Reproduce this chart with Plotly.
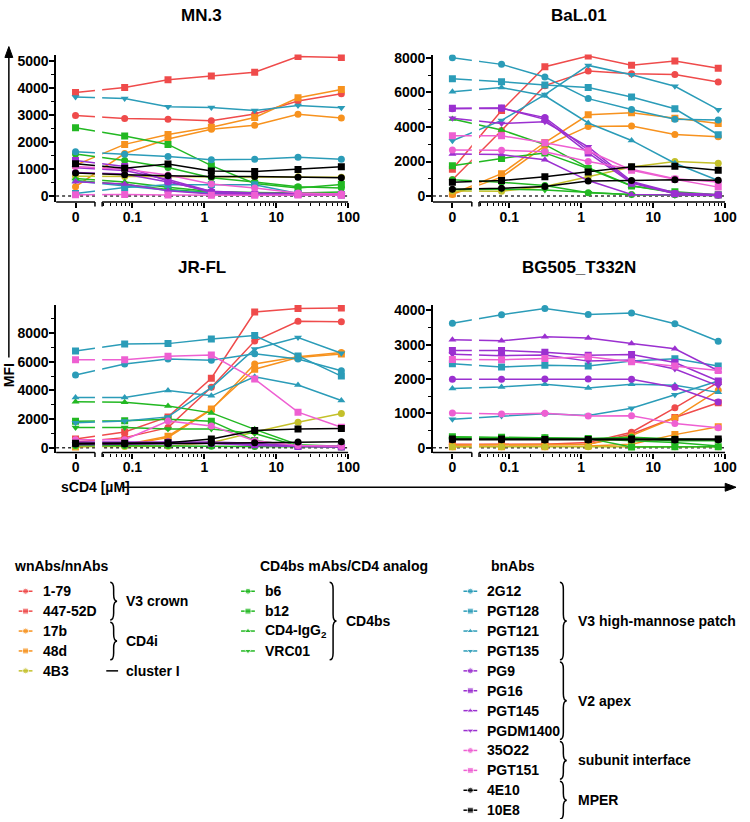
import math
import plotly.graph_objects as go

W, H = 750, 822

# ---------------- data ----------------
conc = [0, 0.078125, 0.3125, 1.25, 5, 20, 80]
x_tick_vals_label = ["0", "0.1", "1", "10", "100"]

antibodies = ["1-79", "447-52D", "17b", "48d", "4B3", "b6", "b12", "CD4-IgG2", "VRC01",
              "2G12", "PGT128", "PGT121", "PGT135", "PG9", "PG16", "PGT145", "PGDM1400",
              "35O22", "PGT151", "4E10", "10E8"]

mn3 = {
    "1-79": [2990, 2880, 2850, 2800, 3050, 3530, 3800],
    "447-52D": [3850, 4030, 4320, 4460, 4600, 5180, 5150],
    "17b": [350, 1580, 2120, 2480, 2630, 3040, 2900],
    "48d": [1150, 1920, 2290, 2560, 2920, 3650, 3960],
    "4B3": [740, 730, 720, 710, 710, 720, 700],
    "b6": [1560, 1320, 1060, 680, 520, 350, 300],
    "b12": [2540, 2230, 1920, 1130, 470, 300, 430],
    "CD4-IgG2": [650, 520, 330, 170, 130, 120, 150],
    "VRC01": [580, 430, 250, 130, 80, 60, 60],
    "2G12": [1650, 1550, 1470, 1350, 1370, 1440, 1370],
    "PGT128": [100, 320, 420, 430, 420, 100, 40],
    "PGT121": [560, 380, 220, 110, 70, 50, 40],
    "PGT135": [3680, 3620, 3320, 3290, 3180, 3360, 3280],
    "PG9": [880, 820, 520, 180, 120, 100, 80],
    "PG16": [1320, 1100, 560, 130, 70, 60, 50],
    "PGT145": [530, 450, 200, 80, 50, 40, 30],
    "PGDM1400": [1050, 950, 620, 170, 100, 60, 40],
    "35O22": [1100, 1000, 780, 450, 300, 120, 80],
    "PGT151": [50, 60, 40, 30, 30, 40, 30],
    "4E10": [860, 790, 760, 730, 730, 700, 680],
    "10E8": [1200, 1030, 1190, 930, 910, 990, 1090],
}

bal01 = {
    "1-79": [950, 3800, 6390, 7240, 7080, 7030, 6600],
    "447-52D": [1550, 4950, 7480, 8100, 7570, 7820, 7400],
    "17b": [100, 1100, 2900, 4030, 4050, 3560, 3440],
    "48d": [130, 1300, 3100, 4700, 4820, 4500, 4200],
    "4B3": [300, 280, 560, 1120, 1680, 2000, 1900],
    "b6": [950, 800, 620, 200, 100, 80, 50],
    "b12": [1750, 2180, 2500, 1600, 580, 250, 80],
    "CD4-IgG2": [4460, 3830, 2980, 1650, 600, 200, 50],
    "VRC01": [380, 400, 350, 200, 80, 50, 30],
    "2G12": [8000, 7620, 6890, 5640, 5010, 4450, 4400],
    "PGT128": [6790, 6620, 6420, 6280, 5730, 5050, 3550],
    "PGT121": [6030, 6280, 5800, 4230, 3220, 1900, 900],
    "PGT135": [3200, 4380, 5870, 7560, 7020, 6350, 5000],
    "PG9": [5060, 5080, 4540, 2650, 800, 150, 80],
    "PG16": [5080, 5100, 4440, 2500, 750, 130, 60],
    "PGT145": [2430, 2400, 2100, 900, 100, 50, 30],
    "PGDM1400": [4500, 4200, 4300, 2850, 850, 200, 80],
    "35O22": [2660, 2650, 2560, 2000, 1550, 1000, 820],
    "PGT151": [3490, 3490, 3080, 2620, 1500, 980, 520],
    "4E10": [400, 450, 560, 870, 900, 950, 920],
    "10E8": [800, 900, 1120, 1400, 1700, 1720, 1500],
}

jrfl = {
    "1-79": [400, 700, 1400, 4220, 7450, 8830, 8800],
    "447-52D": [600, 1100, 2150, 4850, 9480, 9720, 9760],
    "17b": [100, 180, 700, 2650, 5850, 6350, 6650],
    "48d": [50, 200, 800, 2700, 5480, 6300, 6550],
    "4B3": [80, 80, 100, 350, 1100, 1780, 2380],
    "b6": [150, 150, 150, 100, 80, 80, 50],
    "b12": [1850, 1880, 1980, 1850, 500, 120, 60],
    "CD4-IgG2": [3210, 3180, 2910, 2430, 1280, 200, 100],
    "VRC01": [1400, 1400, 1300, 1300, 990, 120, 60],
    "2G12": [5080, 5850, 6200, 6100, 6560, 6200, 5370],
    "PGT128": [6750, 7240, 7270, 7590, 7840, 6400, 5000],
    "PGT121": [3510, 3510, 3990, 3620, 4950, 4380, 3300],
    "PGT135": [1740, 1860, 2150, 4200, 6900, 7700, 6600],
    "PG9": [400, 400, 420, 400, 300, 100, 80],
    "PG16": [300, 350, 350, 300, 200, 80, 50],
    "PGT145": [200, 220, 250, 300, 150, 80, 60],
    "PGDM1400": [250, 300, 300, 350, 250, 120, 80],
    "35O22": [550, 550, 1860, 1520, 480, 150, 100],
    "PGT151": [6150, 6150, 6380, 6470, 4790, 2480, 1420],
    "4E10": [250, 250, 280, 300, 350, 400, 420],
    "10E8": [300, 300, 350, 600, 1200, 1310, 1330],
}

bg505 = {
    "1-79": [100, 100, 100, 150, 450, 1160, 1900],
    "447-52D": [80, 80, 80, 100, 400, 880, 1310],
    "17b": [80, 80, 80, 100, 350, 870, 1670],
    "48d": [30, 30, 30, 50, 100, 380, 610],
    "4B3": [30, 30, 30, 30, 30, 30, 30],
    "b6": [280, 280, 280, 270, 300, 250, 230],
    "b12": [320, 300, 290, 270, 20, 30, 30],
    "CD4-IgG2": [300, 280, 280, 260, 200, 150, 50],
    "VRC01": [250, 250, 250, 250, 250, 200, 200],
    "2G12": [3620, 3870, 4050, 3880, 3920, 3610, 3100],
    "PGT128": [2440, 2350, 2400, 2380, 2520, 2590, 2380],
    "PGT121": [1720, 1770, 1850, 1740, 1850, 1820, 1610],
    "PGT135": [830, 920, 990, 940, 1150, 1540, 1940],
    "PG9": [1990, 1990, 2000, 2000, 1990, 1760, 1330],
    "PG16": [2830, 2830, 2780, 2690, 2710, 2480, 1940],
    "PGT145": [3140, 3110, 3230, 3190, 3030, 2880, 2240],
    "PGDM1400": [2720, 2680, 2700, 2520, 2550, 2290, 1800],
    "35O22": [1010, 980, 1000, 920, 930, 700, 580],
    "PGT151": [2570, 2560, 2600, 2650, 2500, 2380, 2250],
    "4E10": [230, 230, 220, 220, 230, 220, 230],
    "10E8": [250, 250, 240, 240, 250, 240, 250],
}

# ---------------- styles ----------------
RED, ORANGE, OLIVE, GREEN = "#EF4B4B", "#F7921E", "#C4C02A", "#22B822"
TEAL, PURPLE, PINK, BLACK = "#2B9CB8", "#9B30D0", "#EE5FD2", "#000000"
colors = {"1-79": RED, "447-52D": RED, "17b": ORANGE, "48d": ORANGE, "4B3": OLIVE,
          "b6": GREEN, "b12": GREEN, "CD4-IgG2": GREEN, "VRC01": GREEN,
          "2G12": TEAL, "PGT128": TEAL, "PGT121": TEAL, "PGT135": TEAL,
          "PG9": PURPLE, "PG16": PURPLE, "PGT145": PURPLE, "PGDM1400": PURPLE,
          "35O22": PINK, "PGT151": PINK, "4E10": BLACK, "10E8": BLACK}
symbols = {"1-79": "circle", "447-52D": "square", "17b": "circle", "48d": "square", "4B3": "circle",
           "b6": "circle", "b12": "square", "CD4-IgG2": "triangle-up", "VRC01": "triangle-down",
           "2G12": "circle", "PGT128": "square", "PGT121": "triangle-up", "PGT135": "triangle-down",
           "PG9": "circle", "PG16": "square", "PGT145": "triangle-up", "PGDM1400": "triangle-down",
           "35O22": "circle", "PGT151": "square", "4E10": "circle", "10E8": "square"}
labels = {a: a for a in antibodies}
labels["CD4-IgG2"] = "CD4-IgG<sub>2</sub>"

FONT = "Liberation Sans, Arial, sans-serif"
X0 = -1.79          # position of the "0" concentration on the log10 axis
XR = [-2.06, 2.0]
BRK = (-1.52, -1.42)


def xpos(c):
    return X0 if c == 0 else math.log10(c)


xv = [xpos(c) for c in conc]

# panels: name, data, px x0, x1, y_top, y_bot(axis line), y range, dtick, title pos
panels = [
    ("MN.3", mn3, 57, 354, 50, 199, (-221, 5257), 1000, (205, 11)),
    ("BaL.01", bal01, 440, 737, 50, 199, (-344, 8190), 2000, (588, 11)),
    ("JR-FL", jrfl, 57, 354, 303, 452, (-346, 9965), 2000, (205, 265)),
    ("BG505_T332N", bg505, 440, 737, 303, 452, (-144, 4153), 1000, (588, 265)),
]

fig = go.Figure()
shapes = []
annotations = []

minor_x = []
for n in (-2, -1, 0, 1):
    for k in range(2, 10):
        v = math.log10(k * 10 ** n)
        if BRK[1] < v < XR[1]:
            minor_x.append(v)

for i, (name, data, px0, px1, pyt, pyb, yr, dt, tpos) in enumerate(panels):
    n = i + 1
    xa = "x" if n == 1 else f"x{n}"
    ya = "y" if n == 1 else f"y{n}"
    for ab in antibodies:
        fig.add_trace(go.Scatter(
            x=xv, y=data[ab], mode="lines+markers", name=ab, showlegend=False,
            line=dict(color=colors[ab], width=1.5),
            marker=dict(symbol=symbols[ab], size=7, color=colors[ab]),
            xaxis=xa, yaxis=ya))
    dom_x = [px0 / W, px1 / W]
    dom_y = [1 - pyb / H, 1 - pyt / H]
    fig.update_layout(**{
        ("xaxis" if n == 1 else f"xaxis{n}"): dict(
            domain=dom_x, range=XR, showgrid=False, zeroline=False, showline=False,
            tickmode="array", tickvals=[X0, -1, 0, 1, 2], ticktext=x_tick_vals_label,
            ticks="outside", ticklen=5, tickwidth=1.5, tickcolor="black", ticklabelstandoff=-3,
            tickfont=dict(family=FONT, size=14, color="black", weight="bold"),
            minor=dict(tickmode="array", tickvals=minor_x, ticks="outside", ticklen=3,
                       tickwidth=1.2, tickcolor="black"),
            anchor=ya, fixedrange=True),
        ("yaxis" if n == 1 else f"yaxis{n}"): dict(
            domain=dom_y, range=list(yr), showgrid=False, zeroline=False, showline=True,
            linecolor="black", linewidth=1.5, dtick=dt, tick0=0, tickformat="d",
            ticks="outside", ticklen=5, tickwidth=1.5, tickcolor="black", ticklabelstandoff=-2,
            tickfont=dict(family=FONT, size=14, color="black", weight="bold"),
            minor=dict(dtick=dt / 2, ticks="outside", ticklen=3, tickwidth=1.2, tickcolor="black"),
            anchor=xa, fixedrange=True),
    })
    # dotted zero line
    shapes.append(dict(type="line", xref=xa, yref=ya, x0=XR[0], x1=XR[1], y0=0, y1=0,
                       line=dict(color="#333", width=1.5, dash="dot"), layer="below"))
    # axis break gap
    shapes.append(dict(type="rect", xref=xa, yref=f"{ya} domain", x0=BRK[0], x1=BRK[1], y0=0.0, y1=1,
                       fillcolor="white", line=dict(width=0), layer="above"))
    # broken x axis line
    shapes.append(dict(type="line", xref=xa, yref=f"{ya} domain", x0=XR[0], x1=BRK[0], y0=0, y1=0,
                       line=dict(color="black", width=1.5), layer="above"))
    shapes.append(dict(type="line", xref=xa, yref=f"{ya} domain", x0=BRK[1], x1=XR[1], y0=0, y1=0,
                       line=dict(color="black", width=1.5), layer="above"))
    shapes.append(dict(type="line", xref=xa, yref=f"{ya} domain", x0=BRK[0], x1=BRK[0], y0=0, y1=-0.03,
                       line=dict(color="black", width=1.5), layer="above"))
    shapes.append(dict(type="line", xref=xa, yref=f"{ya} domain", x0=BRK[1], x1=BRK[1], y0=0, y1=-0.03,
                       line=dict(color="black", width=1.5), layer="above"))
    annotations.append(dict(text=f"<b>{name}</b>", x=tpos[0] / W, y=1 - tpos[1] / H, xref="paper",
                            yref="paper", showarrow=False, xanchor="center", yanchor="middle",
                            font=dict(family=FONT, size=17, color="black")))

# ---------------- overlay axis for legend / decorations (pixel coords) ----------------
fig.update_layout(
    xaxis5=dict(domain=[0, 1], range=[0, W], visible=False, fixedrange=True, anchor="y5"),
    yaxis5=dict(domain=[0, 1], range=[H, 0], visible=False, fixedrange=True, anchor="x5"),
)

col_defs = [
    (["1-79", "447-52D", "17b", "48d", "4B3"], 26, 42),
    (["b6", "b12", "CD4-IgG2", "VRC01"], 252, 267),
    (["2G12", "PGT128", "PGT121", "PGT135", "PG9", "PG16", "PGT145", "PGDM1400",
      "35O22", "PGT151", "4E10", "10E8"], 478, 493),
]
ROW0, DR = 592, 20.1
for names, mx, tx in col_defs:
    for r, ab in enumerate(names):
        cy = ROW0 + r * DR
        fig.add_trace(go.Scatter(
            x=[mx - 7, mx, mx + 7], y=[cy, cy, cy], mode="lines+markers", showlegend=False,
            line=dict(color=colors[ab], width=1.5),
            marker=dict(symbol=symbols[ab], size=[0, 6, 0], color=colors[ab]),
            xaxis="x5", yaxis="y5", hoverinfo="skip"))
        annotations.append(dict(text=f"<b>{labels[ab]}</b>", x=tx, y=cy, xref="x5", yref="y5",
                                showarrow=False, xanchor="left", yanchor="middle",
                                font=dict(family=FONT, size=14, color="black")))

headers = [("wnAbs/nnAbs", 12), ("CD4bs mAbs/CD4 analog", 262), ("bnAbs", 497)]
for txt, hx in headers:
    annotations.append(dict(text=f"<b>{txt}</b>", x=hx, y=567, xref="x5", yref="y5", showarrow=False,
                            xanchor="left", yanchor="middle", font=dict(family=FONT, size=14, color="black")))


def brace(x, y0, y1, w=7):
    ym = (y0 + y1) / 2
    r = min(7, (y1 - y0) / 4)
    xm = x + w / 2
    return (f"M {x},{y0} Q {xm},{y0} {xm},{y0 + r} L {xm},{ym - r} Q {xm},{ym} {x + w},{ym} "
            f"Q {xm},{ym} {xm},{ym + r} L {xm},{y1 - r} Q {xm},{y1} {x},{y1}")


def row_y(r):
    return ROW0 + r * DR


groups = [
    (112, 0, 1, "V3 crown", 126),
    (112, 2, 3, "CD4i", 126),
    (335, 0, 3, "CD4bs", 350),
    (569, 0, 3, "V3 high-mannose patch", 585),
    (569, 4, 7, "V2 apex", 585),
    (569, 8, 9, "subunit interface", 585),
    (569, 10, 11, "MPER", 585),
]
for bx, r0, r1, txt, tx in groups:
    y0, y1 = row_y(r0) - 9, row_y(r1) + 9
    shapes.append(dict(type="path", xref="x5", yref="y5", path=brace(bx, y0, y1),
                       line=dict(color="black", width=1.5)))
    annotations.append(dict(text=f"<b>{txt}</b>", x=tx, y=(y0 + y1) / 2, xref="x5", yref="y5",
                            showarrow=False, xanchor="left", yanchor="middle",
                            font=dict(family=FONT, size=14, color="black")))
# cluster I
shapes.append(dict(type="line", xref="x5", yref="y5", x0=108, x1=120, y0=row_y(4), y1=row_y(4),
                   line=dict(color="black", width=1.5)))
annotations.append(dict(text="<b>cluster I</b>", x=126, y=row_y(4), xref="x5", yref="y5", showarrow=False,
                        xanchor="left", yanchor="middle", font=dict(family=FONT, size=14, color="black")))

# MFI axis label with arrow (line + arrow head)
MX = 9
shapes.append(dict(type="line", xref="x5", yref="y5", x0=MX, x1=MX, y0=50, y1=356,
                   line=dict(color="black", width=1.5)))
shapes.append(dict(type="path", xref="x5", yref="y5",
                   path=f"M {MX - 4},{53} L {MX},{42} L {MX + 4},{53} Z",
                   fillcolor="black", line=dict(color="black", width=1)))
annotations.append(dict(text="<b>MFI</b>", x=MX, y=374, xref="x5", yref="y5", showarrow=False, textangle=-90,
                        xanchor="center", yanchor="middle", font=dict(family=FONT, size=14, color="black")))
# sCD4 label with arrow
SY = 487
annotations.append(dict(text="<b>sCD4 [µM]</b>", x=60, y=SY, xref="x5", yref="y5", showarrow=False,
                        xanchor="left", yanchor="middle", font=dict(family=FONT, size=14, color="black")))
shapes.append(dict(type="line", xref="x5", yref="y5", x0=124, x1=740, y0=SY, y1=SY,
                   line=dict(color="black", width=1.5)))
shapes.append(dict(type="path", xref="x5", yref="y5",
                   path=f"M {737},{SY - 4} L {748},{SY} L {737},{SY + 4} Z",
                   fillcolor="black", line=dict(color="black", width=1)))

fig.update_layout(width=W, height=H, margin=dict(l=0, r=0, t=0, b=0),
                  paper_bgcolor="white", plot_bgcolor="rgba(0,0,0,0)",
                  shapes=shapes, annotations=annotations, showlegend=False, hovermode=False,
                  font=dict(family=FONT, color="black"))

fig.write_html("out.html", config={"displayModeBar": False},
               post_script="document.body.style.margin='0';")
